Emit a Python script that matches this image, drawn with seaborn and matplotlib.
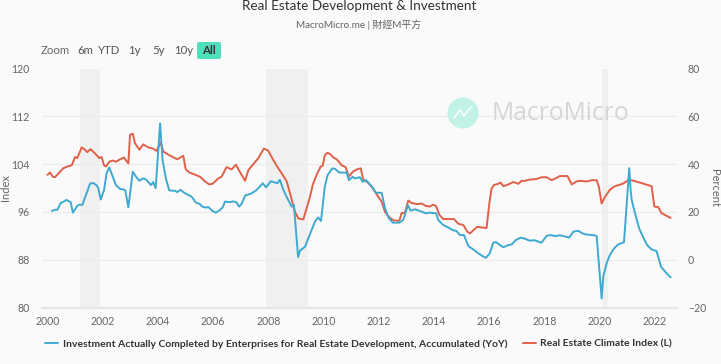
import matplotlib
matplotlib.use("Agg")
import matplotlib.pyplot as plt
import seaborn as sns
import pandas as pd
from matplotlib.patches import Circle, FancyBboxPatch
from matplotlib.lines import Line2D

# valores
invest_years = [2000.16, 2000.27, 2000.36, 2000.48, 2000.60, 2000.69, 2000.84, 2000.92, 2001.08, 2001.15, 2001.27, 2001.36,
                2001.44, 2001.54, 2001.66, 2001.78, 2001.84, 2001.93, 2002.05, 2002.14, 2002.24, 2002.32, 2002.48, 2002.63,
                2002.75, 2002.82, 2002.93, 2003.09, 2003.21, 2003.33, 2003.45, 2003.57, 2003.75, 2003.83, 2003.92, 2004.08,
                2004.17, 2004.29, 2004.41, 2004.62, 2004.70, 2004.82, 2004.98, 2005.22, 2005.38, 2005.52, 2005.61, 2005.74,
                2005.83, 2005.98, 2006.10, 2006.25, 2006.35, 2006.43, 2006.61, 2006.73, 2006.85, 2006.94, 2007.03, 2007.16,
                2007.40, 2007.55, 2007.67, 2007.80, 2007.92, 2008.09, 2008.33, 2008.42, 2008.54, 2008.69, 2008.85, 2008.93,
                2009.08, 2009.15, 2009.33, 2009.45, 2009.57, 2009.69, 2009.81, 2009.91, 2010.05, 2010.15, 2010.32, 2010.42,
                2010.57, 2010.78, 2010.84, 2010.92, 2011.06, 2011.14, 2011.32, 2011.42, 2011.54, 2011.75, 2011.90, 2012.11,
                2012.23, 2012.35, 2012.51, 2012.75, 2012.89, 2013.06, 2013.16, 2013.32, 2013.56, 2013.71, 2013.86, 2014.08,
                2014.16, 2014.34, 2014.52, 2014.68, 2014.82, 2014.95, 2015.09, 2015.25, 2015.43, 2015.61, 2015.79, 2015.89,
                2016.03, 2016.15, 2016.25, 2016.40, 2016.52, 2016.70, 2016.82, 2016.97, 2017.14, 2017.30, 2017.46, 2017.66,
                2017.90, 2018.09, 2018.23, 2018.39, 2018.57, 2018.91, 2019.05, 2019.23, 2019.39, 2019.54, 2019.78, 2019.90,
                2020.08, 2020.14, 2020.26, 2020.38, 2020.53, 2020.68, 2020.89, 2021.08, 2021.13, 2021.17, 2021.29, 2021.44,
                2021.59, 2021.73, 2021.89, 2022.07, 2022.23, 2022.41, 2022.58]
invest_values = [20.4, 20.9, 20.9, 23.7, 24.4, 25.0, 24.1, 19.7, 22.5, 23.0, 23.0, 26.1,
                 28.5, 31.8, 32.1, 31.1, 29.9, 25.2, 29.2, 36.1, 38.6, 36.1, 31.2, 29.6,
                 29.4, 29.0, 21.9, 36.8, 34.7, 33.0, 34.0, 33.6, 31.2, 32.5, 29.9, 57.0,
                 41.7, 34.0, 29.0, 28.8, 28.3, 29.2, 27.8, 26.4, 23.9, 23.3, 22.2, 21.8,
                 22.0, 20.4, 19.7, 20.8, 21.9, 24.3, 24.1, 24.4, 24.0, 22.2, 23.3, 26.8,
                 27.8, 28.9, 30.3, 32.0, 30.3, 32.8, 32.0, 33.4, 29.4, 25.7, 22.2, 22.9,
                 1.1, 3.8, 5.4, 8.9, 12.4, 15.9, 17.7, 16.2, 30.6, 35.4, 38.2, 38.0,
                 36.5, 36.4, 36.5, 33.3, 34.7, 34.0, 34.5, 32.6, 33.3, 30.6, 28.0, 28.0,
                 21.5, 17.7, 15.5, 15.5, 16.6, 22.8, 20.5, 21.1, 20.1, 19.4, 19.7, 19.4,
                 16.6, 14.5, 13.5, 12.4, 12.0, 10.3, 10.3, 5.7, 4.3, 2.7, 1.3, 0.8,
                 2.7, 7.1, 7.4, 6.1, 5.2, 6.1, 6.4, 8.2, 9.2, 8.8, 8.0, 8.1,
                 7.1, 10.0, 10.3, 9.9, 10.2, 9.3, 11.7, 12.1, 11.0, 10.5, 10.3, 9.9,
                 -16.2, -7.1, -1.5, 2.0, 4.7, 6.4, 7.3, 38.3, 29.2, 25.0, 19.4, 13.1,
                 9.3, 6.1, 4.3, 3.6, -2.9, -5.4, -7.4]

climate_years = [2000.00, 2000.09, 2000.19, 2000.27, 2000.39, 2000.57, 2000.72, 2000.88, 2001.00, 2001.08, 2001.24, 2001.36,
                 2001.44, 2001.56, 2001.72, 2001.88, 2001.96, 2002.05, 2002.12, 2002.24, 2002.36, 2002.48, 2002.63, 2002.77,
                 2002.93, 2002.99, 2003.09, 2003.17, 2003.33, 2003.47, 2003.65, 2003.83, 2003.95, 2004.10, 2004.20, 2004.41,
                 2004.58, 2004.70, 2004.92, 2005.01, 2005.14, 2005.31, 2005.52, 2005.71, 2005.86, 2005.98, 2006.19, 2006.31,
                 2006.49, 2006.67, 2006.83, 2006.97, 2007.16, 2007.28, 2007.46, 2007.64, 2007.84, 2008.00, 2008.18, 2008.36,
                 2008.48, 2008.67, 2008.85, 2008.97, 2009.09, 2009.27, 2009.37, 2009.51, 2009.61, 2009.75, 2009.90, 2009.97,
                 2010.05, 2010.14, 2010.24, 2010.36, 2010.48, 2010.66, 2010.80, 2010.92, 2011.06, 2011.20, 2011.35, 2011.44,
                 2011.62, 2011.80, 2011.99, 2012.11, 2012.23, 2012.39, 2012.53, 2012.75, 2012.83, 2012.95, 2013.07, 2013.19,
                 2013.38, 2013.56, 2013.71, 2013.86, 2013.96, 2014.08, 2014.20, 2014.34, 2014.73, 2014.89, 2015.07, 2015.21,
                 2015.31, 2015.43, 2015.57, 2015.91, 2016.01, 2016.09, 2016.18, 2016.33, 2016.42, 2016.52, 2016.70, 2016.88,
                 2017.06, 2017.18, 2017.30, 2017.46, 2017.72, 2017.90, 2018.09, 2018.27, 2018.45, 2018.57, 2018.84, 2019.00,
                 2019.17, 2019.29, 2019.54, 2019.72, 2019.90, 2019.98, 2020.08, 2020.20, 2020.38, 2020.56, 2020.84, 2021.05,
                 2021.17, 2021.47, 2021.89, 2021.99, 2022.13, 2022.25, 2022.41, 2022.58]
climate_values = [102.2, 102.6, 101.9, 101.8, 102.4, 103.3, 103.6, 103.8, 105.2, 105.0, 106.8, 106.4,
                  106.0, 106.5, 105.8, 105.0, 105.2, 103.8, 103.6, 104.4, 104.6, 104.4, 104.8, 105.1,
                  104.1, 108.9, 109.1, 107.5, 106.4, 107.3, 106.8, 106.6, 106.2, 107.6, 106.1, 105.5,
                  105.1, 104.8, 105.4, 103.1, 102.6, 102.3, 101.9, 101.1, 100.6, 100.7, 101.6, 101.9,
                  103.5, 103.1, 103.9, 102.7, 101.2, 103.0, 104.0, 105.0, 106.6, 106.25, 104.7, 103.3,
                  102.5, 101.1, 98.0, 96.0, 94.9, 94.75, 96.3, 98.5, 100.5, 102.2, 103.6, 103.7,
                  105.5, 105.9, 105.7, 105.1, 104.8, 103.8, 103.5, 101.9, 102.7, 103.1, 103.3, 101.4,
                  100.9, 99.9, 98.5, 97.7, 96.0, 95.1, 94.6, 94.5, 95.8, 95.8, 97.9, 97.5,
                  97.3, 97.4, 97.0, 96.9, 97.2, 97.0, 95.5, 94.8, 94.8, 94.0, 93.8, 92.7,
                  92.4, 92.9, 93.5, 93.3, 97.4, 99.9, 100.5, 100.7, 100.9, 100.3, 100.6, 101.0,
                  100.7, 101.2, 101.2, 101.4, 101.5, 101.8, 101.8, 101.3, 101.7, 102.0, 102.0, 100.6,
                  101.1, 101.2, 101.1, 101.3, 101.3, 100.2, 97.4, 98.5, 99.7, 100.3, 100.7, 101.3,
                  101.3, 100.9, 100.3, 96.9, 96.8, 95.8, 95.4, 95.0]

band_starts = [2001.18, 2007.9, 2020.08]
band_ends = [2001.9, 2009.45, 2020.31]
left_ticks = [80, 88, 96, 104, 112, 120]
right_ticks = [-20, 0, 20, 40, 60, 80]
year_ticks = list(range(2000, 2023, 2))
range_labels = ["6m", "YTD", "1y", "5y", "10y"]
range_label_x = [85, 109, 134, 159, 184]

invest_name = "Investment Actually Completed by Enterprises for Real Estate Development, Accumulated (YoY)"
climate_name = "Real Estate Climate Index (L)"

invest = pd.DataFrame({"year": invest_years, "value": invest_values})
climate = pd.DataFrame({"year": climate_years, "value": climate_values})

BLUE = "#3fa9d0"
RED = "#e0604a"
BG = "#fafafa"
GRIS = "#666666"

sns.set_theme(style="white")
plt.rcParams["font.family"] = ["Lato", "Noto Sans CJK TC", "DejaVu Sans"]

W, H = 721, 364
fig = plt.figure(figsize=(W / 100, H / 100), dpi=100, facecolor=BG)
ax = fig.add_axes([41.7 / W, 1 - 307.5 / H, 635 / W, 239 / H], facecolor=BG)
ax2 = ax.twinx()

for start, end in zip(band_starts, band_ends):
    ax.axvspan(start, end, color="#f0f0f0", lw=0, zorder=0)

ax.set_axisbelow(True)
ax.grid(axis="y", color="#ececec", lw=1)
sns.lineplot(data=climate, x="year", y="value", color=RED, lw=1.4, ax=ax, label=climate_name, legend=False, zorder=3)
sns.lineplot(data=invest, x="year", y="value", color=BLUE, lw=1.4, ax=ax2, label=invest_name, legend=False, zorder=3)

ax.set_xlim(1999.79, 2022.8)
ax.set_ylim(80, 120)
ax2.set_ylim(-20, 80)
ax.set_yticks(left_ticks)
ax2.set_yticks(right_ticks)
ax.set_xticks(year_ticks)
ax.tick_params(axis="x", length=4, width=1, color="#e6e6e6", labelsize=7.6, labelcolor=GRIS, pad=2)
ax.tick_params(axis="y", length=0, labelsize=7.6, labelcolor=GRIS, pad=8.5)
ax2.tick_params(axis="y", length=0, labelsize=7.6, labelcolor=GRIS, pad=8)
ax.set_xlabel("")
ax.set_ylabel("")
ax2.set_ylabel("")
for a in (ax, ax2):
    for lado in ["top", "left", "right"]:
        a.spines[lado].set_visible(False)
    a.spines["bottom"].set_color("#e6e6e6")
    a.spines["bottom"].set_linewidth(1.5)


# posiciones en pixeles de la imagen
def fx(px):
    return px / W


def fy(py):
    return 1 - py / H


fig.text(fx(359), fy(6), "Real Estate Development & Investment", ha="center", va="center", fontsize=9.75, color="#333333")
fig.text(fx(359), fy(25), "MacroMicro.me | 財經M平方", ha="center", va="center", fontsize=7.1, color=GRIS)
fig.text(fx(5), fy(188), "Index", ha="center", va="center", rotation=90, fontsize=8, color=GRIS)
fig.text(fx(714), fy(188), "Percent", ha="center", va="center", rotation=-90, fontsize=8, color=GRIS)

# botones de rango
fig.text(fx(55), fy(51), "Zoom", ha="center", va="center", fontsize=8.2, color=GRIS)
for etiqueta, px in zip(range_labels, range_label_x):
    fig.text(fx(px), fy(51), etiqueta, ha="center", va="center", fontsize=8.2, color="#555555")
fig.add_artist(FancyBboxPatch((197 / W, 1 - 59 / H), 24 / W, 17 / H, boxstyle="round,pad=0,rounding_size=0.004",
                              transform=fig.transFigure, fc="#4fdfbd", ec="none"))
fig.text(fx(208.5), fy(51), "All", ha="center", va="center", fontsize=8.2, fontweight="bold", color="#333333")

# marca de agua
fig.add_artist(Circle((463, H - 113), 15.5, transform=None, fc="#c2f1e6", ec="none"))
fig.add_artist(Line2D([fx(454), fx(460), fx(464), fx(468), fx(472)], [fy(118), fy(110), fy(116), fy(110), fy(107)],
                      color="white", lw=1))
fig.text(fx(492), fy(113), "MacroMicro", ha="left", va="center", fontsize=17.7, color="#d6d6d6", family="Open Sans")

# leyenda
handles = ax2.get_lines() + ax.get_lines()
handles = [h for h in handles if h.get_label() in (invest_name, climate_name)]
fig.legend(handles, [invest_name, climate_name], loc="center", bbox_to_anchor=(fx(358.5), fy(344)), ncols=2, frameon=False,
           prop={"weight": "bold", "size": 7.5}, labelcolor="#333333", handlelength=1.25, handletextpad=0.4,
           columnspacing=1.5, borderpad=0)

fig.savefig("out.png", dpi=100, facecolor=BG)
